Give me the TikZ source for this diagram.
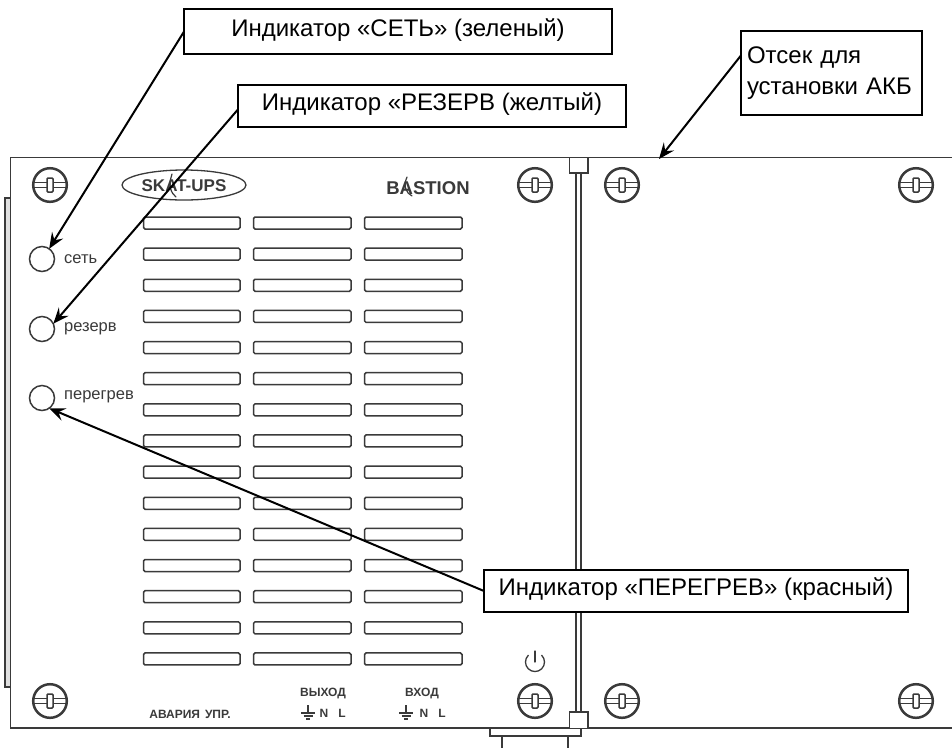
\documentclass[tikz,border=0pt]{standalone}
\usepackage{fontspec}
\setmainfont{Liberation Sans}
\usetikzlibrary{arrows.meta}
\definecolor{ink}{HTML}{3A3A3A}
\newcommand{\lifted}[1]{\raisebox{8pt}{#1}}
\tikzset{
  x=1pt,y=-1pt,
  panel/.style={draw=ink,line width=1.5pt},
  slot/.style={draw=ink,line width=1.5pt,rounded corners=1.5pt},
  callout/.style={draw=black,line width=2pt,fill=white,inner sep=0pt,outer sep=0pt,font=\fontsize{24}{31}\selectfont,text=black},
  leader/.style={draw=black,line width=2pt,-{Stealth[length=16pt,width=13pt,inset=6pt]}},
  led/.style={circle,draw=ink,line width=1.5pt,minimum size=25pt,inner sep=0pt,outer sep=0pt},
  ledtext/.style={anchor=west,inner sep=0pt,font=\fontsize{16.5}{18}\selectfont,text=ink},
  marking/.style={inner sep=0pt,font=\bfseries\fontsize{12}{14}\selectfont,text=ink},
  swoosh/.style={draw=ink,line width=1.2pt,line cap=round},
  screw/.pic={
    \draw[draw=ink,line width=2.5pt] (0,0) circle (16.8);
    \draw[draw=ink,line width=1.5pt] (-16,-2.5) -- (16,-2.5) (-16,2.5) -- (16,2.5);
    \draw[draw=ink,line width=1.5pt,fill=white,rounded corners=1pt] (-3,-7) rectangle (3,7);
  },
  earth/.pic={
    \draw[draw=ink,line width=1.1pt] (0,-7) -- (0,1) (-7,1) -- (7,1) (-4.5,4) -- (4.5,4) (-2,7) -- (2,7);
  }
}
\begin{document}
\begin{tikzpicture}
\useasboundingbox[fill=white] (0,0) rectangle (952,748);
% panel body
\draw[panel] (952,157.5) -- (10.5,157.5) -- (10.5,728) -- (952,728);
\draw[panel,fill=black!12] (5,198) rectangle (10.5,687);
% divider
\draw[draw=ink,line width=1.2pt] (576,174) -- (576,711) (581,174) -- (581,711);
\draw[panel,fill=white] (569.5,157.5) -- (569.5,173) -- (588,173) -- (588,157.5);
\draw[panel,fill=white] (569.5,728) -- (569.5,712) -- (588,712) -- (588,728);
% bottom connector
\draw[panel] (490,728) -- (490,736) -- (581,736) -- (581,728);
\draw[panel] (502,736) -- (502,748) (568,736) -- (568,748);
% screws
\foreach \sx in {50,535,622,916} {
  \pic at (\sx,185) {screw};
  \pic at (\sx,701) {screw};
}
% vent slots
\foreach \row in {0,...,14} {
  \pgfmathsetmacro{\ytop}{217+31.14*\row}
  \pgfmathsetmacro{\ybot}{\ytop+12}
  \draw[slot] (143.5,\ytop) rectangle (240,\ybot);
  \draw[slot] (253.5,\ytop) rectangle (351,\ybot);
  \draw[slot] (364.5,\ytop) rectangle (462,\ybot);
}
% logos
\draw[draw=ink,line width=1.3pt] (184,185) ellipse (62 and 15);
\node[inner sep=0pt,font=\bfseries\fontsize{17}{19}\selectfont,text=ink] (skat) at (184,186) {SKAT-UPS};
\draw[swoosh] (172,174) .. controls (168,186) and (171,193) .. (176,197);
\node[inner sep=0pt,font=\bfseries\fontsize{18.5}{20}\selectfont,text=ink] (bastion) at (428,188) {BASTION};
\draw[swoosh] (407,177) .. controls (403,186) and (406,193) .. (412,196);
% LEDs
\node[led] (led1) at (42,259) {};
\node[led] (led2) at (42,329) {};
\node[led] (led3) at (42,398) {};
\node[ledtext] (t1) at (64,259) {сеть};
\node[ledtext] (t2) at (64,329) {резерв};
\node[ledtext] (t3) at (64,397) {перегрев};
% markings
\node[marking] (m1) at (190,714) {АВАРИЯ\hspace{5pt}УПР.};
\node[marking] (m2) at (323,693) {ВЫХОД};
\node[marking] (m3) at (422,693) {ВХОД};
\pic at (308,712) {earth};
\pic at (406,712) {earth};
\node[marking] (n1) at (324,713) {N};
\node[marking] (l1) at (342,713) {L};
\node[marking] (n2) at (424,713) {N};
\node[marking] (l2) at (442,713) {L};
% power symbol
\draw[draw=ink,line width=1.3pt,line cap=round] (535,651) -- (535,662);
\draw[draw=ink,line width=1.3pt,line cap=round] (541.7,655.3) arc[start angle=-45,end angle=225,radius=9.5];
% callouts
\coordinate (bay) at (659,159);
\node[callout,minimum width=428pt,minimum height=44.5pt] (box1) at (398,31.6) {\lifted{Индикатор «СЕТЬ» (зеленый)}};
\node[callout,minimum width=388pt,minimum height=42pt] (box2) at (432,106) {\lifted{Индикатор «РЕЗЕРВ (желтый)}};
\node[callout,minimum width=181pt,minimum height=84pt,align=left,text width=169pt] (box3) at (831.5,73) {Отсек для\\установки АКБ};
\node[callout,minimum width=424pt,minimum height=42pt] (box4) at (696,591) {\lifted{Индикатор «ПЕРЕГРЕВ» (красный)}};
% leaders
\draw[leader] (box1.west) -- (led1.55);
\draw[leader] (box2.181) -- (led2.25);
\draw[leader] (box3.169) -- (bay);
\draw[leader] (box4.west) -- (led3.-55);
\end{tikzpicture}
\end{document}
